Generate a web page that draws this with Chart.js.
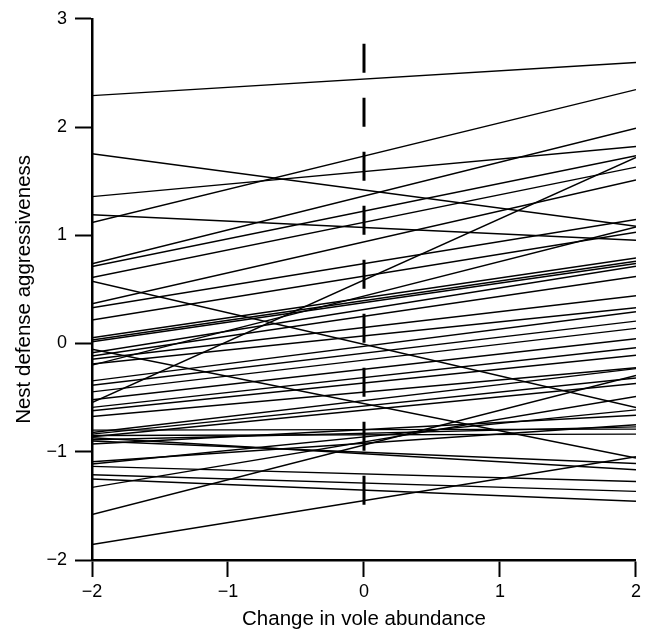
<!DOCTYPE html>
<html>
<head>
<meta charset="utf-8">
<script src="https://cdn.jsdelivr.net/npm/chart.js@4.4.1/dist/chart.umd.min.js"></script>
<style>
  html, body { margin: 0; padding: 0; background: #fff; }
  #wrap { width: 645px; height: 636px; }
</style>
</head>
<body>
<div id="wrap"><canvas id="vole-chart"></canvas></div>
<script>
// each nest: aggressiveness at vole change -2 (left) and +2 (right)
const xStart = -2;
const xEnd = 2;
const leftValues = [
  2.29, 1.753, 1.357, 1.19, 1.117, 0.736, 0.711, 0.61, 0.576, -0.545,
  -0.053, -1.857, -1.58, 0.367, 0.33, 0.217, -0.2, 0.053, 0.032, 0.017,
  -0.085, -0.115, -0.146, -0.19, -0.345, -0.385, -0.447, -0.52, -0.59, -0.622,
  -0.675, -0.822, -0.837, -0.862, -1.329, -1.114, -0.929, -1.092, -0.889, -0.80,
  -0.85, -0.90, -0.87, -1.135, -1.212, -1.252
];
const rightValues = [
  2.597, 1.083, 1.82, 0.954, 2.346, 1.989, 1.734, 1.63, -0.592, 1.719,
  -1.058, -1.046, -0.295, 1.51, 1.145, 1.028, 1.077, 0.791, 0.76, 0.739,
  0.714, 0.619, 0.441, 0.33, 0.293, 0.207, 0.14, 0.044, -0.039, -0.109,
  -0.223, -0.232, -0.318, -0.37, -0.49, -0.613, -0.662, -0.751, -0.77, -0.791,
  -0.837, -1.108, -1.166, -1.274, -1.366, -1.458
];
// dashed reference line at zero change
const refX = 0;
const refTop = 2.77;
const refBottom = -1.5;
const yTicks = [-2, -1, 0, 1, 2, 3];

const fontFamily = '"Liberation Sans", Arial, sans-serif';

const datasets = leftValues.map((l, i) => ({
  data: [{x: xStart, y: l}, {x: xEnd, y: rightValues[i]}],
  borderColor: '#000',
  borderWidth: 1.45,
  pointRadius: 0,
  showLine: true
}));
datasets.push({
  data: [{x: refX, y: refTop}, {x: refX, y: refBottom}],
  borderColor: '#000',
  borderWidth: 3,
  borderDash: [29, 25],
  borderCapStyle: 'butt',
  pointRadius: 0,
  showLine: true
});

const minus = (v) => String(v).replace('-', '\u2212');

const ctx = document.getElementById('vole-chart').getContext('2d');
new Chart(ctx, {
  type: 'scatter',
  data: { datasets },
  options: {
    responsive: true,
    maintainAspectRatio: false,
    animation: false,
    layout: { padding: { top: 17, right: 9, left: 0, bottom: 0 } },
    plugins: {
      legend: { display: false },
      tooltip: { enabled: false }
    },
    scales: {
      x: {
        type: 'linear',
        min: -2,
        max: 2,
        afterFit(scale) { scale.height = 76; },
        border: { display: true, color: '#000', width: 2.5 },
        grid: { display: true, drawOnChartArea: false, drawTicks: true, tickLength: 17, tickColor: '#000', tickWidth: 2 },
        ticks: { stepSize: 1, color: '#000', padding: 4, font: { family: fontFamily, size: 18 }, callback: minus },
        title: { display: true, text: 'Change in vole abundance', color: '#000', padding: { top: 0, bottom: 4 }, font: { family: fontFamily, size: 20.5 } }
      },
      y: {
        type: 'linear',
        min: -2,
        max: 3,
        afterFit(scale) { scale.width = 92; },
        afterBuildTicks(scale) { scale.ticks = yTicks.map(v => ({ value: v })); },
        border: { display: true, color: '#000', width: 2.5 },
        grid: { display: true, drawOnChartArea: false, drawTicks: true, tickLength: 17, tickColor: '#000', tickWidth: 2 },
        ticks: { color: '#000', padding: 8, font: { family: fontFamily, size: 18 }, callback: minus },
        title: { display: true, text: 'Nest defense aggressiveness', color: '#000', padding: { top: 12, bottom: 0 }, font: { family: fontFamily, size: 20.5 } }
      }
    }
  }
});
</script>
</body>
</html>
